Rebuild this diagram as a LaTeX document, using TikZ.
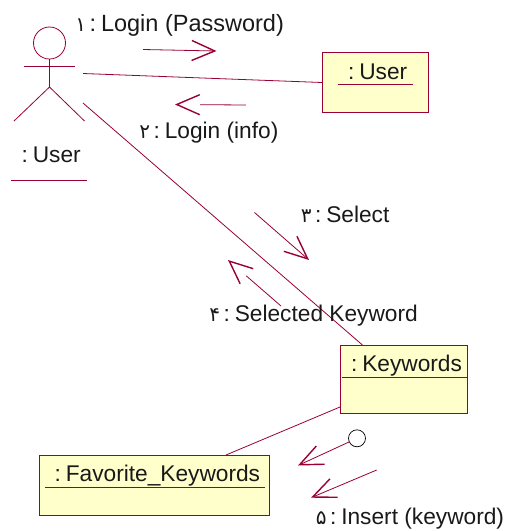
\documentclass[tikz,border=0pt]{standalone}
\usepackage{fontspec}
\setmainfont{Liberation Sans}
\newfontfamily\digitfont[Script=Arabic]{DejaVu Sans}
\usetikzlibrary{arrows.meta,calc}
\definecolor{umlline}{HTML}{990033}
\definecolor{umlfill}{HTML}{FFFFCC}
\newcommand{\fa}[1]{\llap{{\digitfont\fontsize{20}{20}\selectfont #1}\hspace{3.5pt}}}
\newcommand{\cln}{:\hspace{5pt}}
\tikzset{
  x=1pt,y=-1pt,
  every node/.style={inner sep=0pt,outer sep=0pt},
  wire/.style={draw=umlline,line width=.8pt},
  objbox/.style={wire,fill=umlfill,rectangle,anchor=north west},
  lbl/.style={anchor=base west,font=\fontsize{22.7}{24}\selectfont,text=black!90},
  msg/.style={wire,-{Straight Barb[length=23pt,width=20pt,line width=1.4pt,color=umlline]}},
  gapmsg/.style={msg,dash pattern=on 46pt off 200pt},
  lolly/.style={wire,circle,fill=white,draw=black,line width=.7pt,minimum size=17pt}
}
\begin{document}
\begin{tikzpicture}
\useasboundingbox (0,0) rectangle (506,531);
% actor
\node (head) [circle,wire,minimum size=32pt] at (49.5,43) {};
\coordinate (hip) at (49.5,87);
\coordinate (armL) at (24,66);
\coordinate (armR) at (74.5,66);
\coordinate (legL) at (14,121);
\coordinate (legR) at (84.5,121);
\draw[wire] (head.south) -- (hip);
\draw[wire] (armL) -- (armR);
\draw[wire] (legL) -- (hip) -- (legR);
\node (actorlbl) [lbl] at (21.5,162.7) {\cln User};
\coordinate (ulA) at (11,180);
\coordinate (ulB) at (87,180);
\draw[wire] (ulA) -- (ulB);
\coordinate (actorA) at (83,73.5);
\coordinate (actorB) at (83,103);
% objects
\node (userbox) [objbox,minimum width=106pt,minimum height=60pt] at (322,52.5) {};
\node (kwbox) [objbox,minimum width=127pt,minimum height=68pt] at (340,345.5) {};
\node (favbox) [objbox,minimum width=230pt,minimum height=60pt] at (39,455) {};
\node (userlbl) [lbl] at (348,79) {\cln User};
\node (kwlbl) [lbl] at (351,371.7) {\cln Keywords};
\node (favlbl) [lbl] at (54.5,481.7) {\cln Favorite\_Keywords};
\coordinate (u1) at (338,84);
\coordinate (u2) at (413,84);
\coordinate (k1) at (342,377.5);
\coordinate (k2) at (467,377.5);
\coordinate (f1) at (45,487);
\coordinate (f2) at (265,487);
\draw[wire] (u1) -- (u2);
\draw[wire] (k1) -- (k2);
\draw[wire] (f1) -- (f2);
% links
\coordinate (kwA) at (363,345.5);
\coordinate (kwC) at (340,407);
\coordinate (favA) at (226,455);
\draw[wire] (actorA) -- (userbox.west);
\draw[wire] (actorB) -- (kwA);
\draw[wire] (kwC) -- (favA);
% messages
\coordinate (m1a) at (143,49.5);
\coordinate (m1b) at (216.5,51);
\coordinate (m2a) at (246,105);
\coordinate (m2b) at (175,104.5);
\coordinate (m3a) at (254.5,212.5);
\coordinate (m3b) at (309,260);
\coordinate (m4a) at (281,306);
\coordinate (m4b) at (228,260);
\coordinate (m5a) at (376.7,470);
\coordinate (m5b) at (311,497.7);
\coordinate (m6b) at (298,465.5);
\draw[msg] (m1a) -- (m1b);
\draw[gapmsg] (m2a) -- (m2b);
\draw[msg] (m3a) -- (m3b);
\draw[gapmsg] (m4a) -- (m4b);
\draw[msg] (m5a) -- (m5b);
\node (lolli) [lolly] at (357,438.3) {};
\draw[msg] (lolli) -- (m6b);
% labels
\node (t1) [lbl,font=\fontsize{23.5}{24}\selectfont] at (89.5,31) {\fa{۱}\cln Login (Password)};
\node (t2) [lbl] at (153.5,138) {\fa{۲}\cln Login (info)};
\node (t3) [lbl] at (315,222.7) {\fa{۳}\cln Select};
\node (t4) [lbl] at (223.5,321.7) {\fa{۴}\cln Selected Keyword};
\node (t5) [lbl] at (330,524) {\fa{۵}\cln Insert (keyword)};
\end{tikzpicture}
\end{document}
